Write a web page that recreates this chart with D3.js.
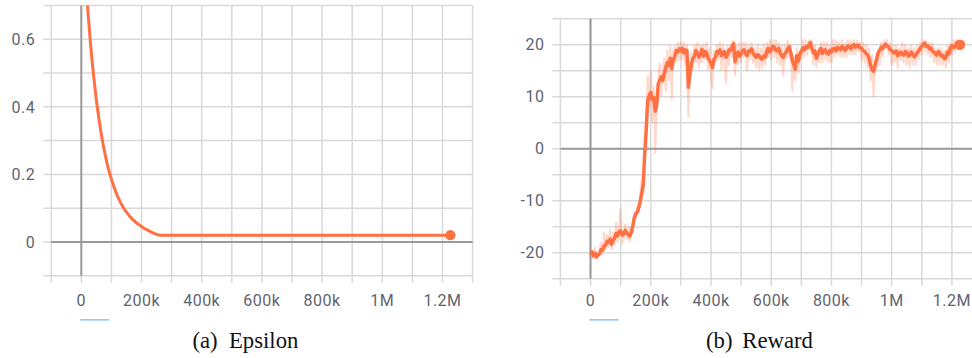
<!DOCTYPE html>
<html><head><meta charset="utf-8">
<script src="https://cdn.jsdelivr.net/npm/d3@7"></script>
<style>
html,body{margin:0;padding:0;background:#fff;}
svg{display:block;}
.tick-label{font-family:Roboto,"Noto Sans",sans-serif;font-size:16px;fill:#5f6470;letter-spacing:0.5px;}
.cap{font-family:"Liberation Serif","Times New Roman",serif;font-size:22.7px;fill:#111;}
</style></head>
<body>
<svg id="chart" width="972" height="358"></svg>
<script>
// ---------- data ----------
const xTickValues = [0, 200000, 400000, 600000, 800000, 1000000, 1200000];
const xTickLabels = ["0", "200k", "400k", "600k", "800k", "1M", "1.2M"];
const epsYTickValues = [0, 0.2, 0.4, 0.6];
const epsYTickLabels = ["0", "0.2", "0.4", "0.6"];
const rewYTickValues = [-20, -10, 0, 10, 20];
const rewYTickLabels = ["-20", "-10", "0", "10", "20"];

// Epsilon (steps in thousands)
const epsSteps = [0, 10, 20, 30, 40, 50, 60, 70, 80, 90, 100, 120, 140, 160, 180, 200, 220, 240, 262, 1226];
const epsValues = [1.0, 0.84, 0.706, 0.593, 0.50, 0.421, 0.356, 0.301, 0.255, 0.216, 0.186, 0.136, 0.101, 0.077, 0.059, 0.046, 0.035, 0.026, 0.02, 0.02];

// Reward (steps in thousands)
const rewSteps = [
  0,5,10,15,20,25,30,35,40,45,50,55,60,65,70,75,80,85,90,95,
  100,105,110,115,120,125,130,135,140,145,150,155,160,165,170,175,180,185,190,195,
  200,205,210,215,220,225,230,235,240,245,250,255,260,265,270,275,280,285,290,295,
  300,305,310,315,320,325,330,335,340,345,350,355,360,365,370,375,380,385,390,395,
  400,405,410,415,420,425,430,435,440,445,450,455,460,465,470,475,480,485,490,495,
  500,505,510,515,520,525,530,535,540,545,550,555,560,565,570,575,580,585,590,595,
  600,605,610,615,620,625,630,635,640,645,650,655,660,665,670,675,680,685,690,695,
  700,705,710,715,720,725,730,735,740,745,750,755,760,765,770,775,780,785,790,795,
  800,805,810,815,820,825,830,835,840,845,850,855,860,865,870,875,880,885,890,895,
  900,905,910,915,920,925,930,935,940,945,950,955,960,965,970,975,980,985,990,995,
  1000,1005,1010,1015,1020,1025,1030,1035,1040,1045,1050,1055,1060,1065,1070,1075,1080,1085,1090,1095,
  1100,1105,1110,1115,1120,1125,1130,1135,1140,1145,1150,1155,1160,1165,1170,1175,1180,1185,1190,1195,
  1200,1205,1210,1215,1220,1225,1227];
const rewSmoothed = [
  -20.3,-19.8,-20.6,-20.1,-20.8,-20.4,-20.2,-19.4,-19.5,-18.7,-18.6,-17.8,-18.0,-17.4,-18.4,-17.6,-17.2,-16.3,-16.8,-15.9,
  -15.8,-16.6,-16.4,-15.7,-16.1,-16.5,-16.8,-16.2,-15.0,-13.4,-12.6,-12.2,-11.4,-10.2,-8.6,-7.0,-1.0,3.5,9.3,10.2,
  10.8,9.4,9.8,7.2,8.4,12.5,13.2,13.8,13.1,14.5,15.6,16.6,16.0,17.4,15.4,17.1,17.8,18.9,18.6,19.2,
  18.8,19.3,18.4,19.0,18.9,11.8,14.2,16.4,17.3,17.8,18.9,18.4,17.6,18.2,19.1,17.8,18.7,18.5,17.4,17.0,
  16.4,15.6,17.2,17.6,18.7,18.4,19.0,17.9,18.4,18.7,17.6,18.1,19.0,18.9,19.6,20.2,16.7,17.9,18.6,17.8,
  18.2,18.9,19.0,18.3,17.9,18.8,18.7,19.2,18.3,17.9,17.6,18.1,17.9,17.4,17.2,17.8,17.6,18.7,19.3,18.6,
  19.0,19.7,19.5,18.9,18.8,19.3,18.4,17.9,17.6,18.2,18.6,19.2,19.6,18.5,17.0,16.2,15.3,17.9,16.8,18.2,
  18.7,19.4,19.0,19.6,19.4,19.9,20.4,19.3,18.4,18.8,17.4,18.1,18.8,19.3,18.3,18.9,19.0,18.4,18.2,18.9,
  18.6,19.2,19.3,18.8,19.5,19.2,19.0,19.7,19.4,18.9,19.3,19.8,19.6,19.2,19.8,20.0,19.5,19.9,19.9,19.4,
  19.3,18.9,18.7,18.3,18.1,17.4,16.0,15.2,14.9,16.1,17.2,18.4,18.9,19.5,19.2,19.8,20.1,19.7,19.6,19.0,
  18.9,18.5,18.4,18.8,17.9,18.4,18.6,18.1,18.0,18.7,18.5,17.8,17.9,18.6,18.2,17.7,18.0,18.5,18.8,19.3,
  19.6,20.1,20.3,19.7,19.8,19.2,19.4,18.8,18.6,18.2,18.0,18.7,18.4,17.8,17.9,17.3,17.5,18.6,18.2,19.4,
  19.8,19.4,19.6,20.3,20.1,19.9,20.0];
const rewRaw = [
  -20.0,-21.0,-21.0,-19.0,-21.0,-20.5,-19.5,-18.0,-20.5,-16.0,-19.5,-16.5,-19.0,-15.5,-19.5,-16.0,-18.5,-14.0,-18.0,-15.0,
  -11.5,-18.0,-17.5,-14.5,-17.5,-15.0,-18.0,-15.0,-16.0,-12.0,-13.5,-11.0,-12.5,-9.0,-6.0,-8.5,2.0,6.0,14.0,8.0,
  15.0,5.0,12.0,-1.0,10.0,13.0,16.5,10.0,15.0,17.5,11.0,19.0,13.0,20.0,9.5,19.0,19.5,16.5,20.5,17.0,
  20.5,17.0,20.5,16.0,20.0,6.0,16.0,18.5,15.0,20.0,16.5,20.5,15.5,20.0,16.5,20.0,17.0,20.5,15.0,19.5,
  14.5,11.5,19.0,16.5,20.0,17.0,20.5,15.0,20.0,16.5,12.5,20.0,16.0,20.0,17.5,21.0,14.0,20.0,16.0,20.5,
  16.5,20.5,17.5,20.5,15.0,20.0,17.0,20.5,16.5,19.5,15.5,20.0,15.0,19.5,15.5,20.0,16.0,20.5,17.5,21.0,
  17.0,21.0,17.5,21.0,16.5,20.5,16.0,20.0,14.0,20.0,17.0,21.0,17.5,20.0,11.0,18.0,13.0,19.5,14.5,19.0,
  17.0,21.0,17.5,21.0,18.0,21.0,19.0,21.0,16.0,20.0,15.5,19.5,16.5,20.5,16.5,20.5,17.0,20.5,16.5,20.0,
  16.5,21.0,17.5,21.0,18.0,20.5,17.5,21.0,17.5,20.5,17.5,21.0,18.0,21.0,18.0,21.0,18.0,21.0,18.5,20.5,
  17.0,20.5,16.5,20.0,15.5,19.5,13.0,18.0,10.0,17.0,15.0,19.0,16.0,20.5,17.5,21.0,19.0,21.0,18.0,20.5,
  16.0,20.0,16.5,20.0,15.5,19.5,17.0,20.5,16.5,20.0,16.0,19.5,15.5,20.0,16.0,19.5,16.0,20.0,17.0,20.5,
  18.0,21.0,18.5,21.0,18.0,20.5,17.5,20.5,16.5,19.5,16.0,19.5,16.0,19.5,16.0,19.0,15.5,20.0,16.5,20.5,
  18.0,21.0,18.5,21.0,19.0,20.5,20.0];

// ---------- drawing ----------
const svg = d3.select("#chart");
const ORANGE = "#ff7043";

function panel(opts) {
  const x = d3.scaleLinear().domain([-100000, 1300000]).range(opts.xRange);
  const y = d3.scaleLinear().domain(opts.yDomain).range(opts.yRange);
  const g = svg.append("g");
  const [x0, x1] = opts.xRange;
  const [yb, yt] = opts.yRange;

  const xGrid = d3.range(-100000, 1300001, 100000);
  g.append("g").selectAll("line").data(xGrid).join("line")
    .attr("x1", d => x(d)).attr("x2", d => x(d))
    .attr("y1", yt).attr("y2", yb + 7)
    .attr("stroke", "#d9d9d9").attr("stroke-width", 1.5);
  g.append("g").selectAll("line").data(opts.yGrid).join("line")
    .attr("x1", x0 - 8).attr("x2", x1)
    .attr("y1", d => y(d)).attr("y2", d => y(d))
    .attr("stroke", "#d9d9d9").attr("stroke-width", 1.5);
  g.append("line").attr("x1", x(0)).attr("x2", x(0)).attr("y1", yt).attr("y2", yb)
    .attr("stroke", "#9a9a9a").attr("stroke-width", 2);
  g.append("line").attr("x1", x0).attr("x2", x1).attr("y1", y(0)).attr("y2", y(0))
    .attr("stroke", "#9a9a9a").attr("stroke-width", 2);

  g.append("g").selectAll("text").data(xTickValues).join("text")
    .attr("class", "tick-label")
    .attr("x", d => x(d)).attr("y", 305.5)
    .attr("text-anchor", "middle")
    .text((d, i) => xTickLabels[i]);
  g.append("g").selectAll("text").data(opts.yTicks).join("text")
    .attr("class", "tick-label")
    .attr("x", x0 - 16).attr("y", d => y(d))
    .attr("dy", "0.36em")
    .attr("text-anchor", "end")
    .text((d, i) => opts.yLabels[i]);

  g.append("rect").attr("x", x(0) - 1).attr("y", 319).attr("width", 29).attr("height", 1.6)
    .attr("fill", "#8ec8f6");

  const cid = "clip" + opts.id;
  svg.append("clipPath").attr("id", cid).append("rect")
    .attr("x", x0).attr("y", yt).attr("width", x1 - x0).attr("height", yb - yt);
  const plot = g.append("g").attr("clip-path", `url(#${cid})`);

  opts.draw(plot, x, y);

  g.append("text").attr("class", "cap").attr("x", opts.capX[0]).attr("y", 348).text(opts.cap[0]);
  g.append("text").attr("class", "cap").attr("x", opts.capX[1]).attr("y", 348).text(opts.cap[1]);
}

panel({
  id: "a",
  xRange: [51.2, 472.6],
  yDomain: [-0.1, 0.7], yRange: [275.7, 5.5],
  yGrid: [-0.1, 0, 0.1, 0.2, 0.3, 0.4, 0.5, 0.6, 0.7],
  yTicks: epsYTickValues, yLabels: epsYTickLabels,
  cap: ["(a)", "Epsilon"], capX: [192.5, 229],
  draw: (p, x, y) => {
    const pts = epsSteps.map((s, i) => [s * 1000, epsValues[i]]);
    p.append("path").datum(pts)
      .attr("fill", "none").attr("stroke", ORANGE).attr("stroke-width", 3)
      .attr("stroke-linejoin", "round")
      .attr("d", d3.line().x(d => x(d[0])).y(d => y(d[1])).curve(d3.curveMonotoneX));
    const last = pts[pts.length - 1];
    p.append("circle").attr("cx", x(last[0])).attr("cy", y(last[1])).attr("r", 5.2).attr("fill", ORANGE);
  }
});

panel({
  id: "b",
  xRange: [560.4, 982],
  yDomain: [-25, 25], yRange: [278.7, 18.7],
  yGrid: [-25, -20, -15, -10, -5, 0, 5, 10, 15, 20, 25],
  yTicks: rewYTickValues, yLabels: rewYTickLabels,
  cap: ["(b)", "Reward"], capX: [706, 742.3],
  draw: (p, x, y) => {
    const raw = rewSteps.map((s, i) => [s * 1000, rewRaw[i]]);
    const sm = rewSteps.map((s, i) => [s * 1000, rewSmoothed[i]]);
    const line = d3.line().x(d => x(d[0])).y(d => y(d[1]));
    p.append("path").datum(raw)
      .attr("fill", "none").attr("stroke", ORANGE).attr("stroke-opacity", 0.28).attr("stroke-width", 2)
      .attr("d", line);
    p.append("path").datum(sm)
      .attr("fill", "none").attr("stroke", ORANGE).attr("stroke-width", 3.5)
      .attr("stroke-linejoin", "round")
      .attr("d", line);
    const last = sm[sm.length - 1];
    p.append("circle").attr("cx", x(last[0])).attr("cy", y(last[1])).attr("r", 5.2).attr("fill", ORANGE);
  }
});
</script>
</body></html>
